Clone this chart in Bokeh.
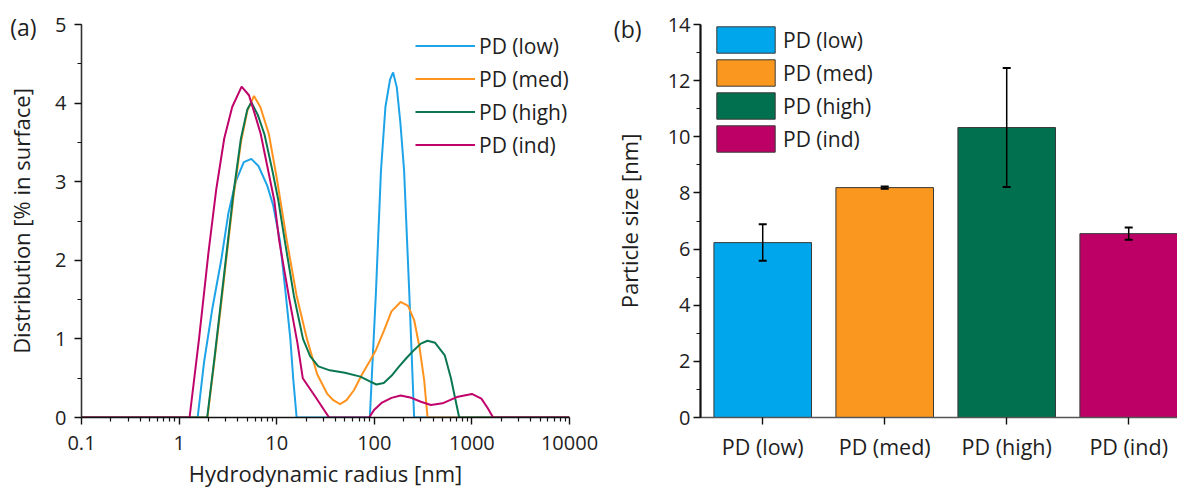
from bokeh.plotting import figure
from bokeh.layouts import row
from bokeh.models import (ColumnDataSource, FixedTicker, SingleIntervalTicker,
                          CustomJSTickFormatter, Whisker, TeeHead, LinearAxis,
                          Legend, LegendItem, Range1d)
from bokeh.embed import file_html
from bokeh.resources import INLINE

FONT = "Open Sans"
TEXT = "#1e1e1e"

names = ["PD (low)", "PD (med)", "PD (high)", "PD (ind)"]
line_colors = ["#1CA3E8", "#FF931E", "#0A7750", "#C0036A"]
bar_colors = ["#00A6EB", "#F9971F", "#00704F", "#BD0066"]

# ---- panel (a): size distributions ----
low_x = [0.1, 1.55, 1.8, 2.2, 2.7, 3.2, 3.8, 4.6, 5.5, 6.5, 8.0, 9.2, 10.8, 12.3, 13.8, 14.8, 16.0,
         90, 104, 117, 130, 145, 156, 170, 185, 202, 228, 256, 10000]
low_y = [0, 0, 0.7, 1.4, 2.0, 2.6, 3.0, 3.25, 3.29, 3.2, 2.95, 2.7, 2.25, 1.6, 1.0, 0.48, 0,
         0, 1.6, 3.14, 3.95, 4.3, 4.39, 4.2, 3.75, 3.14, 1.6, 0, 0]

med_x = [0.1, 1.95, 2.3, 2.7, 3.1, 3.6, 4.3, 5.0, 5.85, 6.8, 8.3, 10.0, 12.7, 16.0, 20.4, 26.0,
         33.0, 38.0, 44.6, 52.0, 62.0, 75.0, 90.0, 104.0, 125.0, 150.0, 186.0, 222.0, 256.0,
         290.0, 324.0, 351.0, 10000]
med_y = [0, 0, 0.72, 1.45, 2.1, 2.8, 3.5, 3.9, 4.09, 3.95, 3.61, 3.05, 2.25, 1.55, 1.0, 0.55,
         0.3, 0.22, 0.17, 0.22, 0.35, 0.55, 0.72, 0.86, 1.1, 1.35, 1.47, 1.42, 1.24,
         0.9, 0.48, 0, 0]

high_x = [0.1, 1.94, 2.3, 2.7, 3.1, 3.6, 4.3, 5.0, 5.5, 6.4, 7.5, 9.0, 10.4, 12.1, 15.0, 18.6,
          22.0, 26.7, 35.0, 50.0, 72.0, 90.0, 105.0, 125.0, 150.0, 178.0, 215.0, 256.0, 300.0,
          351.0, 420.0, 528.0, 610.0, 680.0, 741.0, 10000]
high_y = [0, 0, 0.75, 1.5, 2.15, 2.85, 3.55, 3.92, 4.01, 3.85, 3.6, 3.15, 2.76, 2.25, 1.55, 1.0,
          0.78, 0.65, 0.6, 0.57, 0.52, 0.46, 0.42, 0.44, 0.53, 0.645, 0.76, 0.86, 0.94,
          0.976, 0.95, 0.79, 0.5, 0.22, 0, 0]

ind_x = [0.1, 1.28, 1.6, 2.0, 2.4, 2.9, 3.5, 4.37, 5.2, 6.0, 6.85, 8.0, 9.45, 10.6, 13.5, 16.3,
         18.5, 25.0, 34.4, 88.5, 100, 120, 150, 186, 240, 300, 380, 500, 700, 1000, 1250, 1450,
         1650, 10000]
ind_y = [0, 0, 1.0, 2.1, 2.9, 3.55, 3.95, 4.21, 4.1, 3.85, 3.61, 3.2, 2.76, 2.25, 1.5, 0.95,
         0.5, 0.26, 0, 0, 0.1, 0.19, 0.25, 0.28, 0.25, 0.2, 0.16, 0.18, 0.26, 0.3, 0.24, 0.12,
         0, 0]

x_ticks = [0.1, 1, 10, 100, 1000, 10000]

# ---- panel (b): mean particle size ----
bar_pos = [1, 2, 3, 4]
size_mean = [6.23, 8.19, 10.33, 6.55]
size_err = [0.65, 0.04, 2.12, 0.22]


def style_axis(ax, tick_size="20px"):
    ax.axis_line_color = "#111111"
    ax.axis_line_width = 1.6
    ax.major_tick_line_color = "#111111"
    ax.minor_tick_line_color = "#111111"
    ax.major_tick_line_width = 1.4
    ax.minor_tick_line_width = 1.2
    ax.major_tick_in = 0
    ax.major_tick_out = 7
    ax.minor_tick_in = 0
    ax.minor_tick_out = 4
    ax.major_label_text_font = FONT
    ax.major_label_text_font_size = tick_size
    ax.major_label_text_color = TEXT
    ax.axis_label_text_font = FONT
    ax.axis_label_text_font_size = "22px"
    ax.axis_label_text_font_style = "normal"
    ax.axis_label_text_color = TEXT


def panel_tag(text, at, standoff):
    # an extra, line-less left axis whose single label is the panel letter
    return LinearAxis(ticker=FixedTicker(ticks=[at]),
                      formatter=CustomJSTickFormatter(code="return %r;" % text),
                      axis_line_color=None, major_tick_in=0, major_tick_out=0,
                      minor_tick_in=0, minor_tick_out=0, major_label_standoff=standoff,
                      major_label_text_font=FONT, major_label_text_font_size="23px",
                      major_label_text_color=TEXT)


# ================= left figure =================
p1 = figure(width=600, height=491, x_axis_type="log", x_range=Range1d(0.1, 10000),
            y_range=Range1d(0, 5), output_backend="svg", toolbar_location=None,
            min_border_left=81, min_border_right=31, min_border_top=24, min_border_bottom=74)
p1.grid.visible = False
p1.outline_line_color = None

series = [(low_x, low_y), (med_x, med_y), (high_x, high_y), (ind_x, ind_y)]
items = []
for (xs, ys), name, col in zip(series, names, line_colors):
    r = p1.line(xs, ys, line_color=col, line_width=2)
    items.append(LegendItem(label=name, renderers=[r]))

minor = [m * d for d in [0.1, 1, 10, 100, 1000] for m in range(2, 10)]
xa1, ya1 = p1.xaxis[0], p1.yaxis[0]
xa1.ticker = FixedTicker(ticks=x_ticks, minor_ticks=minor)
xa1.formatter = CustomJSTickFormatter(code="return tick < 1 ? tick.toFixed(1) : tick.toFixed(0);")
ya1.ticker = SingleIntervalTicker(interval=1, num_minor_ticks=2)
style_axis(xa1)
style_axis(ya1)
xa1.major_label_standoff = 11
xa1.axis_label_standoff = 5
ya1.major_label_standoff = 8
ya1.axis_label_standoff = 16
ya1.axis_line_color = "#333333"
xa1.axis_label = "Hydrodynamic radius [nm]"
ya1.axis_label = "Distribution [% in surface]"
p1.add_layout(panel_tag("(a)", 4.965, -33), "left")

leg1 = Legend(items=items, location=(334, 258), glyph_width=60, glyph_height=29, spacing=4,
              padding=0, margin=0, border_line_alpha=0, background_fill_alpha=0,
              label_text_font=FONT, label_text_font_size="21px", label_text_color=TEXT,
              label_standoff=4)
p1.add_layout(leg1)

# ================= right figure =================
p2 = figure(width=577, height=491, x_range=Range1d(0.49, 4.40), y_range=Range1d(0, 14),
            output_backend="svg", toolbar_location=None,
            min_border_left=100, min_border_right=0, min_border_top=24, min_border_bottom=74)
p2.grid.visible = False
p2.outline_line_color = None

src = ColumnDataSource(dict(
    x=bar_pos, top=size_mean, name=names, color=bar_colors,
    upper=[m + e for m, e in zip(size_mean, size_err)],
    lower=[m - e for m, e in zip(size_mean, size_err)],
))
p2.vbar(x="x", top="top", width=0.8, bottom=0, source=src, fill_color="color",
        line_color="#3a3a3a", line_width=1, legend_field="name")

wh = Whisker(source=src, base="x", upper="upper", lower="lower", line_color="black",
             line_width=1.5, level="annotation",
             upper_head=TeeHead(size=8, line_color="black", line_width=2),
             lower_head=TeeHead(size=8, line_color="black", line_width=2))
p2.add_layout(wh)

xa2, ya2 = p2.xaxis[0], p2.yaxis[0]
xa2.ticker = FixedTicker(ticks=bar_pos, minor_ticks=[])
xa2.major_label_overrides = {i: n for i, n in zip(bar_pos, names)}
ya2.ticker = SingleIntervalTicker(interval=2, num_minor_ticks=2)
style_axis(xa2, tick_size="21.5px")
style_axis(ya2)
xa2.axis_line_color = "#555555"
ya2.axis_line_width = 2.2
xa2.major_label_standoff = 7
ya2.major_label_standoff = 3
ya2.axis_label_standoff = 21
ya2.axis_label = "Particle size [nm]"
p2.add_layout(panel_tag("(b)", 13.83, -31), "left")

leg2 = p2.legend[0]
leg2.location = (9, 262)
leg2.glyph_width = 73
leg2.glyph_height = 33
leg2.spacing = 0
leg2.padding = 0
leg2.margin = 0
leg2.border_line_alpha = 0
leg2.background_fill_alpha = 0
leg2.label_text_font = FONT
leg2.label_text_font_size = "21px"
leg2.label_text_color = TEXT
leg2.label_standoff = 1

layout = row(p1, p2)
open("out.html", "w").write(file_html(layout, INLINE))
